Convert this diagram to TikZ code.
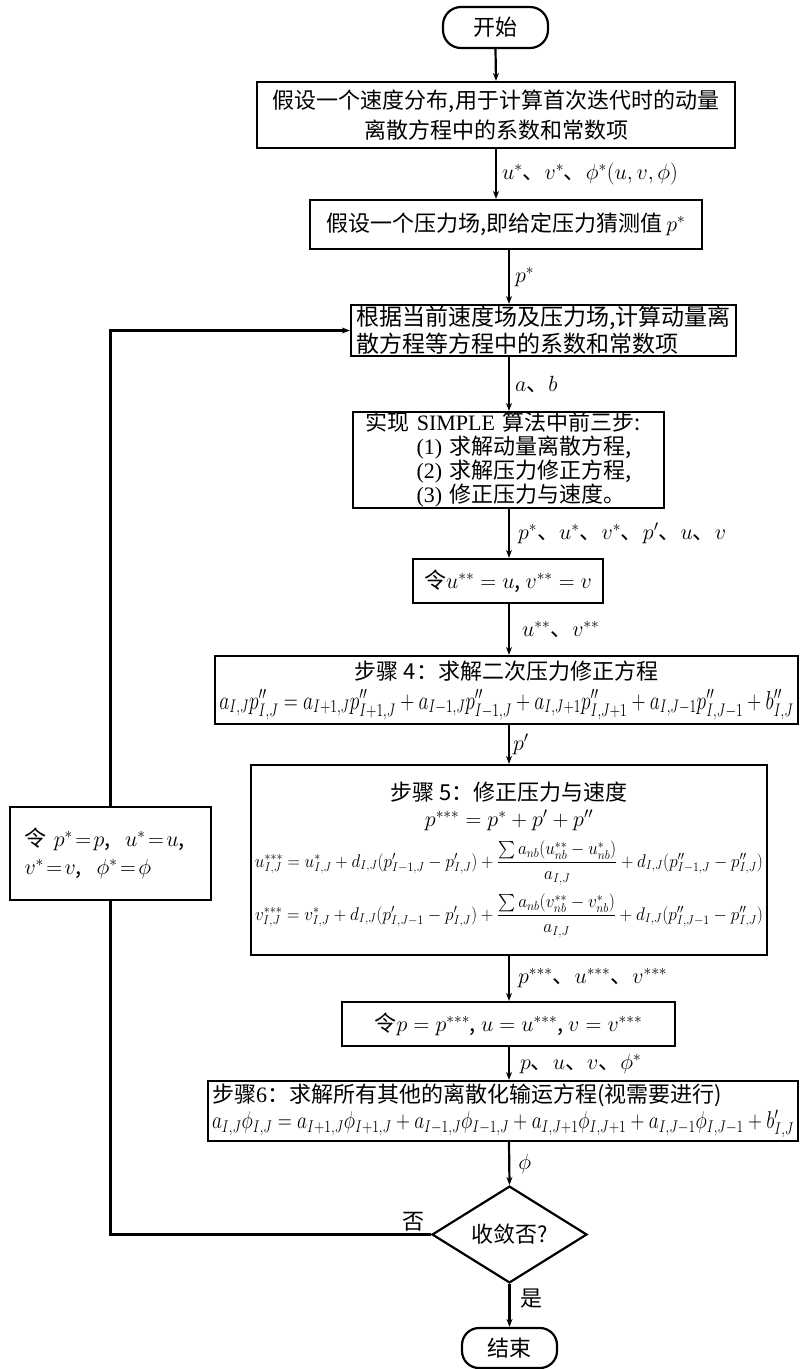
\RequirePackage{fix-cm}
\documentclass[tikz,border=0pt]{standalone}
\usepackage{amsmath}
\usepackage{graphicx}
\usepackage{fontspec}
\setmainfont{Noto Sans CJK SC}
\newfontfamily\lat{Liberation Serif}
\usetikzlibrary{shapes.geometric,arrows.meta}
\begin{document}
\begin{tikzpicture}[x=1pt,y=-1pt,
  every node/.style={font=\fontsize{22}{27}\selectfont},
  box/.style={draw, line width=2.2pt, inner sep=0pt, rectangle},
  arr/.style={line width=2.2pt,-{Stealth[length=8pt,width=6pt]}},
  lnk/.style={line width=2.2pt},
  lab/.style={inner sep=0pt, font=\fontsize{22}{26}\selectfont}]
\useasboundingbox (0,0) rectangle (802,1369);
\fill[white] (0,0) rectangle (802,1369);
\coordinate (sp) at (509,0);

\node[box, rounded corners=18pt, minimum width=105pt, minimum height=41pt] (start) at (495.5,27.5) {开始};
\node[box, minimum width=478pt, minimum height=66pt, align=center, font=\fontsize{22}{30}\selectfont] (b1) at (496,115)
  {假设一个速度分布,用于计算首次迭代时的动量\\离散方程中的系数和常数项};
\node[box, minimum width=392pt, minimum height=49pt] (b2) at (506,224.5)
  {假设一个压力场,即给定压力猜测值\,$p^*$};
\node[box, minimum width=385pt, minimum height=51pt, align=left, text width=375pt, font=\fontsize{23}{27}\selectfont] (b3) at (543.5,330.5)
  {根据当前速度场及压力场,计算动量离\\散方程等方程中的系数和常数项};
\node[box, minimum width=311pt, minimum height=96pt, align=left, text width=286pt, font=\fontsize{22}{24}\selectfont] (b4) at (508.5,460)
  {实现 {\lat SIMPLE} 算法中前三步:\\
   \hspace*{51pt}{\lat (1)} 求解动量离散方程,\\
   \hspace*{51pt}{\lat (2)} 求解压力修正方程,\\
   \hspace*{51pt}{\lat (3)} 修正压力与速度。};
\node[box, minimum width=190pt, minimum height=44pt] (b5) at (508,581)
  {令$u^{**}=u$,\ $v^{**}=v$};
\node[box, minimum width=583pt, minimum height=68pt, align=center, font=\fontsize{22}{30}\selectfont] (b6) at (506.5,690)
  {步骤 4：求解二次压力修正方程\\
   \resizebox*{574pt}{30pt}{$a_{I,J}p''_{I,J}=a_{I+1,J}p''_{I+1,J}+a_{I-1,J}p''_{I-1,J}+a_{I,J+1}p''_{I,J+1}+a_{I,J-1}p''_{I,J-1}+b''_{I,J}$}};
\node[box, minimum width=516pt, minimum height=190pt, align=center, font=\fontsize{22}{26}\selectfont] (b7) at (509,860)
  {步骤 5：修正压力与速度\\
   $p^{***}=p^*+p'+p''$\\[9pt]
   \resizebox*{508pt}{44pt}{$u^{***}_{I,J}=u^*_{I,J}+d_{I,J}(p'_{I-1,J}-p'_{I,J})+\dfrac{\sum a_{nb}(u^{**}_{nb}-u^*_{nb})}{a_{I,J}}+d_{I,J}(p''_{I-1,J}-p''_{I,J})$}\\[8pt]
   \resizebox*{508pt}{44pt}{$v^{***}_{I,J}=v^*_{I,J}+d_{I,J}(p'_{I,J-1}-p'_{I,J})+\dfrac{\sum a_{nb}(v^{**}_{nb}-v^*_{nb})}{a_{I,J}}+d_{I,J}(p''_{I,J-1}-p''_{I,J})$}};
\node[box, minimum width=333pt, minimum height=44pt] (b8) at (508.5,1024)
  {令$p=p^{***}$, $u=u^{***}$, $v=v^{***}$};
\node[box, minimum width=590pt, minimum height=60pt, align=left, text width=582pt, font=\fontsize{22}{26}\selectfont] (b9) at (503,1111)
  {步骤{\lat 6}：求解所有其他的离散化输运方程(视需要进行)\\
   \resizebox*{582pt}{28pt}{$a_{I,J}\phi_{I,J}=a_{I+1,J}\phi_{I+1,J}+a_{I-1,J}\phi_{I-1,J}+a_{I,J+1}\phi_{I,J+1}+a_{I,J-1}\phi_{I,J-1}+b'_{I,J}$}};
\node[draw, line width=2.2pt, diamond, inner sep=0pt, minimum width=155pt, minimum height=75pt] (dia) at (509.5,1234.5) {收敛否?};
\node[box, rounded corners=17pt, minimum width=95pt, minimum height=40pt] (end) at (509.5,1348) {结束};
\node[box, minimum width=201pt, minimum height=93pt, align=left, text width=172pt, font=\fontsize{22}{28}\selectfont] (lb) at (110.5,853.5)
  {令 $p^*\!=\!p$,\ \ $u^*\!=\!u$,\\ $v^*\!=\!v$,\ \ $\phi^*\!=\!\phi$};

\draw[arr] (start.south) -- (b1.north);
\draw[arr] (b1.south) -- node[lab, right=5pt] (l1) {$u^*$、$v^*$、$\phi^*(u,v,\phi)$} (b1.south |- b2.north);
\draw[arr] (b2.south -| sp) -- node[lab, right=5pt] (l2) {$p^*$} (b3.north -| sp);
\draw[arr] (b3.south -| sp) -- node[lab, right=5pt] (l3) {$a$、$b$} (b4.north -| sp);
\draw[arr] (b4.south -| sp) -- node[lab, right=8pt] (l4) {$p^*$、$u^*$、$v^*$、$p'$、$u$、$v$} (b5.north -| sp);
\draw[arr] (b5.south -| sp) -- node[lab, right=12pt] (l5) {$u^{**}$、$v^{**}$} (b6.north -| sp);
\draw[arr] (b6.south -| sp) -- node[lab, right=3pt] (l6) {$p'$} (b7.north -| sp);
\draw[arr] (b7.south -| sp) -- node[lab, right=8pt] (l7) {$p^{***}$、$u^{***}$、$v^{***}$} (b8.north -| sp);
\draw[arr] (b8.south -| sp) -- node[lab, right=10pt] (l8) {$p$、$u$、$v$、$\phi^*$} (b9.north -| sp);
\draw[arr] (b9.south -| sp) -- node[lab, right=8pt] (l9) {$\phi$} (dia.north);
\draw[arr] (dia.south) -- node[lab, pos=0.35, right=10pt] (yes) {是} (end.north);
\draw[lnk] (dia.west) -- node[pos=0.053, above=2pt, inner sep=0pt] (no) {否} (dia.west -| lb.south) -- (lb.south);
\draw[arr] (lb.north) -- (lb.north |- b3.west) -- (b3.west);
\end{tikzpicture}
\end{document}
